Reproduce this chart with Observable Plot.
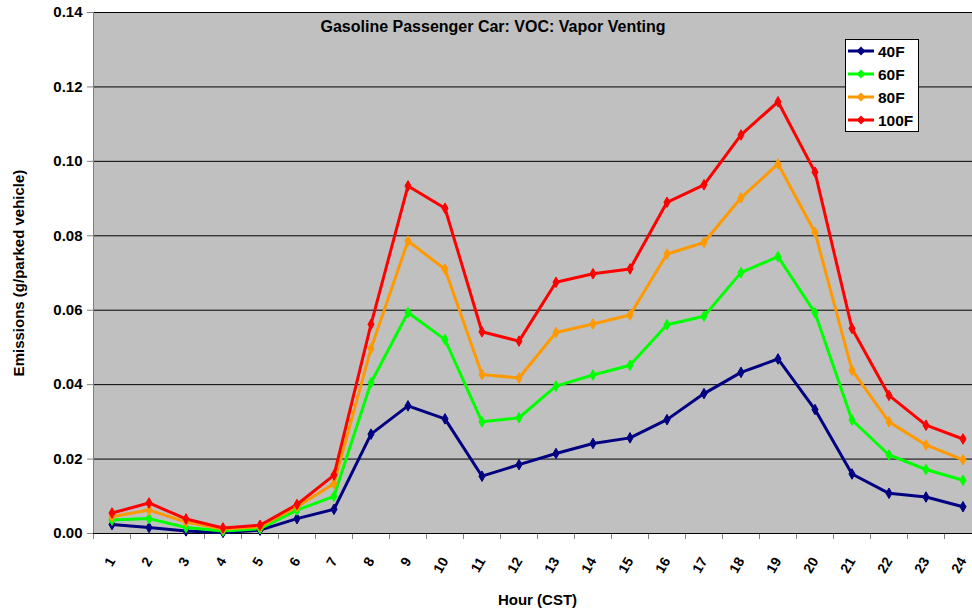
<!DOCTYPE html>
<html><head><meta charset="utf-8">
<script src="https://cdn.jsdelivr.net/npm/d3@7"></script>
<script src="https://cdn.jsdelivr.net/npm/@observablehq/plot@0.6"></script>
<style>html,body{margin:0;padding:0;background:#fff;overflow:hidden}</style>
</head><body><div id="chart"></div>
<script>
const hours = [1,2,3,4,5,6,7,8,9,10,11,12,13,14,15,16,17,18,19,20,21,22,23,24];
const temp40F  = [0.0024,0.0016,0.0007,0.0003,0.0009,0.0040,0.0065,0.0267,0.0343,0.0308,0.0154,0.0185,0.0215,0.0242,0.0257,0.0306,0.0376,0.0433,0.0469,0.0333,0.0160,0.0108,0.0098,0.0072];
const temp60F  = [0.0036,0.0040,0.0016,0.0007,0.0013,0.0063,0.0100,0.0405,0.0594,0.0521,0.0300,0.0311,0.0396,0.0426,0.0452,0.0561,0.0584,0.0701,0.0744,0.0593,0.0305,0.0211,0.0172,0.0143];
const temp80F  = [0.0045,0.0063,0.0031,0.0012,0.0018,0.0072,0.0134,0.0497,0.0786,0.0710,0.0427,0.0418,0.0540,0.0563,0.0587,0.0751,0.0782,0.0902,0.0993,0.0809,0.0439,0.0300,0.0238,0.0198];
const temp100F = [0.0055,0.0082,0.0039,0.0015,0.0022,0.0078,0.0157,0.0562,0.0934,0.0874,0.0542,0.0517,0.0675,0.0698,0.0711,0.0890,0.0937,0.1071,0.1160,0.0971,0.0551,0.0371,0.0291,0.0254];
const seriesNames = ["40F","60F","80F","100F"];
const seriesColors = ["#000080","#00ff00","#ff9900","#ff0000"];
const yTicks = [0,0.02,0.04,0.06,0.08,0.10,0.12,0.14];
const hourBoundaries = [0.5,1.5,2.5,3.5,4.5,5.5,6.5,7.5,8.5,9.5,10.5,11.5,12.5,13.5,14.5,15.5,16.5,17.5,18.5,19.5,20.5,21.5,22.5,23.5,24.5];
const chartTitle = "Gasoline Passenger Car: VOC: Vapor Venting";
const yLabel = "Emissions (g/parked vehicle)";
const xLabel = "Hour (CST)";

const allSeries = [temp40F, temp60F, temp80F, temp100F];
const data = [];
allSeries.forEach((vals, i) => vals.forEach((v, j) => data.push({hour: hours[j], value: v, series: seriesNames[i]})));

const font = "'Liberation Sans', Arial, sans-serif";

const chart = Plot.plot({
  width: 972, height: 613,
  marginLeft: 93, marginTop: 12, marginRight: -9, marginBottom: 80,
  style: {fontFamily: font, fontSize: "15px", fontWeight: "bold", color: "#000", background: "#fff", overflow: "visible"},
  x: {type: "linear", domain: [0.5, 24.5]},
  y: {domain: [0, 0.14]},
  color: {domain: seriesNames, range: seriesColors},
  marks: [
    Plot.frame({fill: "#c0c0c0", stroke: null}),
    Plot.ruleY(yTicks.slice(1), {stroke: "#000", strokeWidth: 1}),
    Plot.ruleX([0.5], {stroke: "#808080", strokeWidth: 1}),
    Plot.axisY({ticks: yTicks, tickFormat: d3.format(".2f"), tickSize: 6, tickPadding: 5, stroke: "#808080",
      label: yLabel, labelAnchor: "center", labelArrow: false, labelOffset: 80, fontSize: 15}),
    Plot.axisX({ticks: hourBoundaries, tickFormat: () => "", tickSize: 6, stroke: "#808080", label: null}),
    Plot.axisX({ticks: hours, tickSize: 0, tickRotate: -60, tickPadding: 25, tickFormat: d => String(d),
      label: null, fontSize: 14}),
    Plot.axisX({ticks: [], tickSize: 0, label: xLabel, labelAnchor: "center", labelArrow: false, labelOffset: 71, fontSize: 15}),
    Plot.ruleY([0], {stroke: "#000", strokeWidth: 1}),
    Plot.line(data, {x: "hour", y: "value", stroke: "series", strokeWidth: 3}),
    Plot.dot(data, {x: "hour", y: "value", fill: "series", stroke: "series", strokeWidth: 1, symbol: "diamond", r: 3.2}),
    Plot.text([chartTitle], {frameAnchor: "top-left", dx: 227, dy: 8, lineAnchor: "top", textAnchor: "start",
      fontSize: 16, fontWeight: "bold", fill: "#000"})
  ]
});
document.getElementById("chart").appendChild(chart);

// legend inside plot area
const svg = d3.select(chart);
const lg = svg.append("g").attr("font-family", font).attr("font-size", 15.5).attr("font-weight", "bold")
  .attr("text-anchor", "start");
lg.append("rect").attr("x", 845.5).attr("y", 39.5).attr("width", 73).attr("height", 92)
  .attr("fill", "#fff").attr("stroke", "#000").attr("stroke-width", 1);
seriesNames.forEach((name, i) => {
  const yy = 51 + i * 23;
  lg.append("line").attr("x1", 848).attr("x2", 874).attr("y1", yy).attr("y2", yy)
    .attr("stroke", seriesColors[i]).attr("stroke-width", 3);
  lg.append("path").attr("d", d3.symbol(d3.symbolDiamond2, 50)()).attr("transform", `translate(861,${yy})`)
    .attr("fill", seriesColors[i]);
  lg.append("text").attr("x", 878).attr("y", yy).attr("dy", "0.36em").attr("text-anchor", "start")
    .attr("fill", "#000").text(name);
});
</script>
</body></html>
